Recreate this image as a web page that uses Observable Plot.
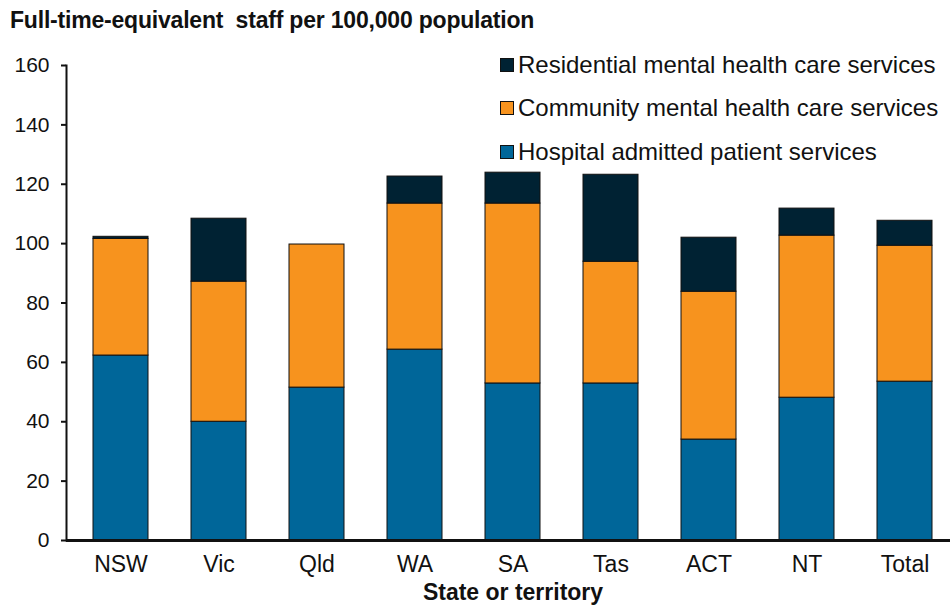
<!DOCTYPE html>
<html><head><meta charset="utf-8">
<script src="https://cdn.jsdelivr.net/npm/d3@7"></script>
<script src="https://cdn.jsdelivr.net/npm/@observablehq/plot@0.6"></script>
<style>
body{margin:0;background:#fff;font-family:"Liberation Sans",Arial,sans-serif;color:#111;}
#wrap{position:relative;width:950px;height:605px;overflow:hidden;}
#chart{position:absolute;left:0;top:0;}
#title{position:absolute;left:10px;top:7px;font-weight:bold;font-size:23px;white-space:pre;letter-spacing:-0.2px;}
#legend{position:absolute;left:500px;top:43px;}
.li{display:flex;align-items:center;height:43.5px;font-size:24px;white-space:nowrap;}
.sw{width:12px;height:12px;border:1px solid #111;margin-right:4px;}
#xlabel{position:absolute;left:0;width:1026px;text-align:center;top:581px;line-height:22px;font-weight:bold;font-size:23px;}
</style></head><body>
<div id="wrap"><div id="chart"></div>
<div id="title">Full-time-equivalent  staff per 100,000 population</div>
<div id="legend"></div>
<div id="xlabel">State or territory</div></div>
<script>
const states = ["NSW","Vic","Qld","WA","SA","Tas","ACT","NT","Total"];
const hospital = [62.3, 40.0, 51.5, 64.3, 52.9, 52.9, 34.0, 48.1, 53.5];
const community = [39.3, 47.2, 48.2, 49.2, 60.6, 41.0, 49.8, 54.6, 45.8];
const residential = [0.7, 21.2, 0, 9.1, 10.4, 29.3, 18.2, 9.1, 8.4];
const seriesNames = ["Hospital admitted patient services","Community mental health care services","Residential mental health care services"];
const seriesColors = ["#006699","#F7931E","#002233"];
const yTicks = [0,20,40,60,80,100,120,140,160];

const seriesValues = [hospital, community, residential];
const rows = states.flatMap((s,i)=>seriesNames.map((n,k)=>({state:s, series:n, value:seriesValues[k][i]})));

const plot = Plot.plot({
  width:950, height:605, marginTop:65, marginBottom:65, marginLeft:66, marginRight:0,
  style:{fontFamily:'"Liberation Sans", Arial, sans-serif', fontSize:"20px", color:"#111", background:"transparent"},
  x:{domain:states, range:[71,953], paddingInner:0.44, paddingOuter:0.22, label:null},
  y:{domain:[0,160], label:null},
  color:{domain:seriesNames, range:seriesColors},
  marks:[
    Plot.barY(rows,{x:"state", y:"value", fill:"series", stroke:"#111", strokeWidth:1, order:seriesNames}),
    Plot.frame({anchor:"left", stroke:"#111", strokeWidth:2}),
    Plot.axisY({ticks:yTicks, tickSize:5, tickPadding:12, fontSize:21, label:null, strokeWidth:2}),
    Plot.axisX({tickSize:0, tickPadding:15, fontSize:23, label:null}),
    Plot.ruleY([0],{stroke:"#111", strokeWidth:3})
  ]
});
document.getElementById("chart").appendChild(plot);

const legend = document.getElementById("legend");
[2,1,0].forEach(k=>{
  const d = document.createElement("div"); d.className="li";
  const sw = document.createElement("div"); sw.className="sw"; sw.style.background=seriesColors[k];
  const t = document.createElement("span"); t.textContent=seriesNames[k];
  d.appendChild(sw); d.appendChild(t); legend.appendChild(d);
});
</script>
</body></html>
